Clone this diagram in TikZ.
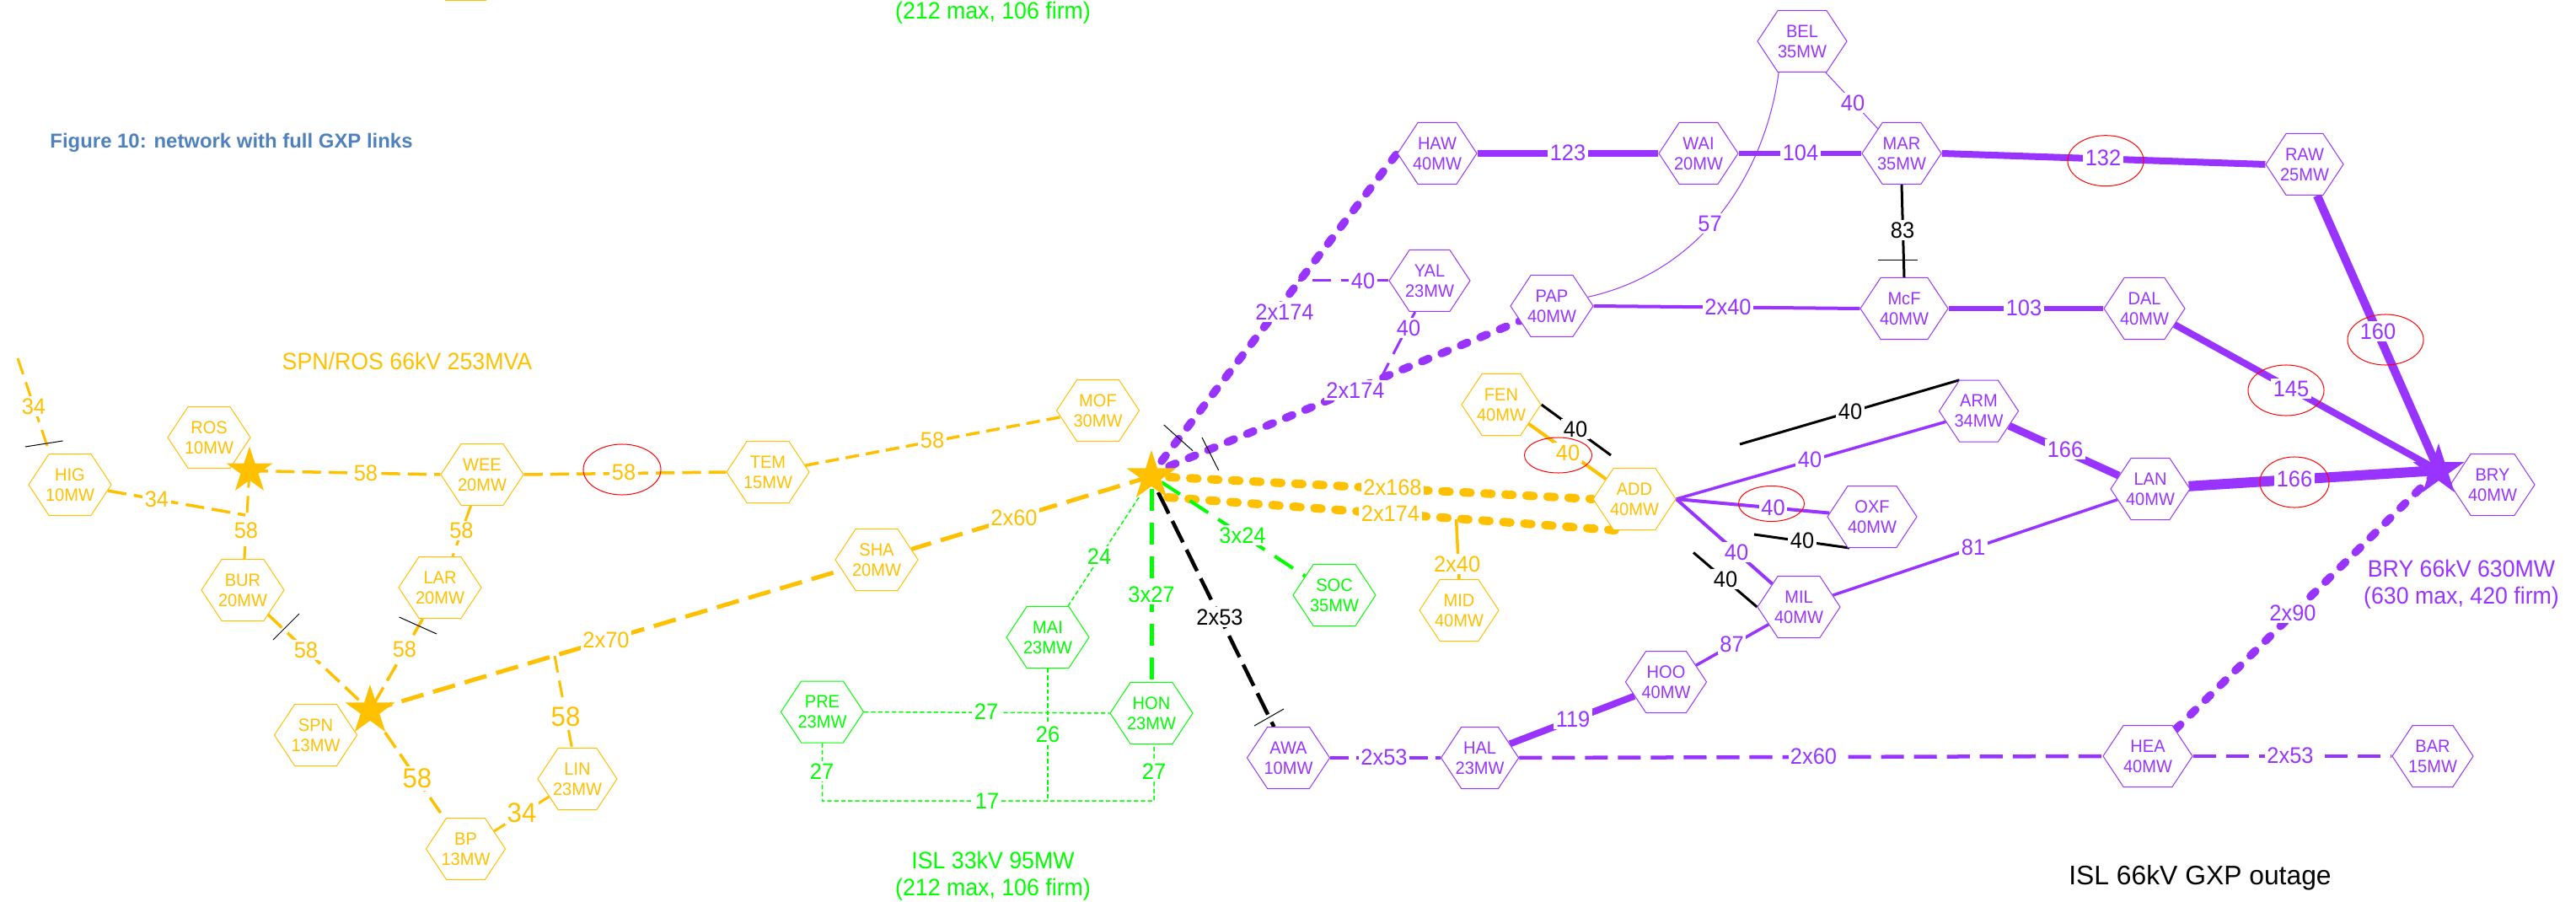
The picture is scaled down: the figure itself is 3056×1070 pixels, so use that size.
\documentclass[tikz,border=0pt]{standalone}
\usepackage{fontspec}
\setmainfont{Liberation Sans}
\newfontfamily\fh{Liberation Sans}[FakeStretch=0.95]
\newfontfamily\fl{Liberation Sans}[FakeStretch=0.95]
\usetikzlibrary{shapes.symbols,shapes.geometric}
\pgfdeclarelayer{background}
\pgfsetlayers{background,main}
\definecolor{yel}{HTML}{FFC000}
\definecolor{pur}{HTML}{9933FF}
\definecolor{grn}{HTML}{00FF00}
\definecolor{figblue}{HTML}{4F81BD}
\newcommand\hx[2]{\makebox[0pt]{#1}\\\makebox[0pt]{#2}}
\tikzset{
 lw/.style={line width=#1*0.2845pt},
 hexa/.style={shape=signal,signal to=east and west,signal pointer angle=113,draw,fill=white,lw=1,
   minimum height=73*0.01cm,minimum width=#1*0.02cm,inner sep=0pt,align=center,font=\fh\fontsize{6}{6.9}\selectfont},
 hy/.style={hexa=#1,draw=yel,text=yel},
 hp/.style={hexa=#1,draw=pur,text=pur},
 hg/.style={hexa=#1,draw=grn,text=grn},
 lb/.style={inner sep=0.7pt,fill=white,font=\fl\fontsize{7.6}{9}\selectfont},
 lbig/.style={lb,font=\fl\fontsize{9.3}{11}\selectfont},
 title/.style={inner sep=0pt,align=center,font=\fl\fontsize{8}{9.1}\selectfont},
 starn/.style={shape=star,star points=5,star point ratio=2.618,minimum size=#1,inner sep=0pt,draw=none},
 redell/.style={shape=ellipse,draw=red,lw=1,inner sep=0pt},
 tick/.style={draw=black,lw=1},
 dA/.style={dash pattern=on 5.7pt off 2.8pt},
 dB/.style={dash pattern=on 6.3pt off 2.6pt},
 dC/.style={dash pattern=on 4.6pt off 2.3pt},
 dD/.style={dash pattern=on 7.7pt off 3.4pt},
 dE/.style={dash pattern=on 8pt off 2.8pt},
 dF/.style={dash pattern=on 7.4pt off 4pt},
 dG/.style={dash pattern=on 1.5pt off 0.85pt},
 dH/.style={dash pattern=on 6.3pt off 3.4pt},
 dR/.style={line cap=round,dash pattern=on 2.4pt off 4.7pt},
 ly/.style={draw=yel,lw=#1},
 lp/.style={draw=pur,lw=#1},
 lg/.style={draw=grn,lw=#1},
 lk/.style={draw=black,lw=#1},
}
\begin{document}
\begin{tikzpicture}[x=0.01cm,y=-0.01cm]
\useasboundingbox (0,0) rectangle (3056,1070);
% yellow substations
\node[hy=49] (HIG) at (83,575) {\hx{HIG}{10MW}};
\node[hy=49] (ROS) at (248,519) {\hx{ROS}{10MW}};
\node[hy=49] (WEE) at (572,563) {\hx{WEE}{20MW}};
\node[hy=49] (BUR) at (288,700) {\hx{BUR}{20MW}};
\node[hy=49] (LAR) at (522,697) {\hx{LAR}{20MW}};
\node[hy=49] (SPN) at (374.5,872) {\hx{SPN}{13MW}};
\node[hy=47] (LIN) at (685,924) {\hx{LIN}{23MW}};
\node[hy=47] (BP) at (552.5,1007) {\hx{BP}{13MW}};
\node[hy=49] (TEM) at (911,560) {\hx{TEM}{15MW}};
\node[hy=49] (MOF) at (1302.5,487) {\hx{MOF}{30MW}};
\node[hy=49] (SHA) at (1040,664) {\hx{SHA}{20MW}};
\node[hy=47] (MID) at (1731,724) {\hx{MID}{40MW}};
\node[hy=47] (FEN) at (1781,480) {\hx{FEN}{40MW}};
\node[hy=49] (ADD) at (1939,592) {\hx{ADD}{40MW}};
% green substations
\node[hg=49] (MAI) at (1243,756) {\hx{MAI}{23MW}};
\node[hg=49] (PRE) at (975.5,844.5) {\hx{PRE}{23MW}};
\node[hg=49] (HON) at (1366,846) {\hx{HON}{23MW}};
\node[hg=49] (SOC) at (1583,706) {\hx{SOC}{35MW}};
% purple substations
\node[hp=49] (AWA) at (1528.5,899) {\hx{AWA}{10MW}};
\node[hp=46] (HAL) at (1755.6,899) {\hx{HAL}{23MW}};
\node[hp=48] (HOO) at (1976.5,809) {\hx{HOO}{40MW}};
\node[hp=49] (MIL) at (2134,720) {\hx{MIL}{40MW}};
\node[hp=53] (OXF) at (2221,613) {\hx{OXF}{40MW}};
\node[hp=47] (ARM) at (2347.5,487.6) {\hx{ARM}{34MW}};
\node[hp=47] (LAN) at (2551,580) {\hx{LAN}{40MW}};
\node[hp=50] (BRY) at (2957,575) {\hx{BRY}{40MW}};
\node[hp=53] (HEA) at (2548,897) {\hx{HEA}{40MW}};
\node[hp=48] (BAR) at (2886,897) {\hx{BAR}{15MW}};
\node[hp=53] (BEL) at (2138,49) {\hx{BEL}{35MW}};
\node[hp=47] (HAW) at (1705,182) {\hx{HAW}{40MW}};
\node[hp=47] (WAI) at (2015,182) {\hx{WAI}{20MW}};
\node[hp=47] (MAR) at (2256,182) {\hx{MAR}{35MW}};
\node[hp=48] (YAL) at (1696,333) {\hx{YAL}{23MW}};
\node[hp=49] (PAP) at (1841,363) {\hx{PAP}{40MW}};
\node[hp=52] (McF) at (2259,366) {\hx{McF}{40MW}};
\node[hp=46] (RAW) at (2734,195) {\hx{RAW}{25MW}};
\node[hp=48] (DAL) at (2544,366) {\hx{DAL}{40MW}};
% stars
\node[starn=0.58cm,fill=yel] (S1) at (296,558.5) {};
\node[starn=0.62cm,fill=yel] (S2) at (439,843) {};
\node[starn=0.62cm,fill=yel] (S3) at (1366,565) {};
\node[starn=0.64cm,fill=pur] (S4) at (2893,558) {};
% free ends and taps
\coordinate (hstub) at (21,425);
\coordinate (bj) at (291,611);
\coordinate (tapL) at (658,778);
\coordinate (isA) at (1387,566);
\coordinate (isB) at (1385,590);
\coordinate (tapM) at (1727.6,616);
\coordinate (tapY) at (1639,447);
\coordinate (tapP) at (1540,333);
\coordinate (pA) at (1378,547);
\coordinate (pB) at (1387,553);
\coordinate (kA) at (1911,540);
\coordinate (kB) at (2064,527);
\coordinate (kC) at (2081,634);
\coordinate (kD) at (2009,655.5);
\coordinate (gA) at (1378,572);
\coordinate (gB) at (1366,580);
\coordinate (gC) at (1351,590);
\coordinate (kE) at (1374,584);
\coordinate (gJ1) at (1243,950);
\coordinate (gL) at (975.5,950);
\coordinate (gR) at (1369,950);
\coordinate (topa) at (528,0.5);
\coordinate (topb) at (577,0.5);
\coordinate (t1a) at (30,530); \coordinate (t1b) at (74.5,523);
\coordinate (t2a) at (324,759); \coordinate (t2b) at (355,728);
\coordinate (t3a) at (473.5,732); \coordinate (t3b) at (518,752);
\coordinate (t4a) at (1380.7,504); \coordinate (t4b) at (1415,534.7);
\coordinate (t5a) at (1426,519); \coordinate (t5b) at (1445.7,558);
\coordinate (t6a) at (1488,861); \coordinate (t6b) at (1523,841);
\coordinate (t7a) at (2227.5,309); \coordinate (t7b) at (2274.5,309);
\begin{pgfonlayer}{background}
% yellow connectors
\draw[ly=3,dA] (hstub) -- (HIG.123);
\draw[ly=3.5,dB] (HIG.351) -- (bj);
\draw[ly=3,dA] (S1.center) -- (BUR.87);
\draw[ly=3.5,dB] (S1.center) -- (WEE.west);
\draw[ly=3.5,dB] (WEE.east) -- (TEM.west);
\draw[ly=3.5,dC] (TEM.10) -- (MOF.190);
\draw[ly=3,dA] (WEE.250) -- (LAR.68);
\draw[ly=3.5,dB] (BUR.316) -- (S2.center);
\draw[ly=3.5,dB] (LAR.241) -- (S2.center);
\draw[ly=5,dD] (S2.center) -- (SHA);
\draw[ly=5,dD] (S3.center) -- (SHA);
\draw[ly=3,dA] (tapL) -- (LIN.100);
\draw[ly=3.5,dB] (S2.center) -- (BP.125);
\draw[ly=3,dA] (BP.32) -- (LIN.212);
\draw[ly=10,dR] (isA) -- (ADD.west);
\draw[ly=10,dR] (isB) -- (ADD.238);
\draw[ly=3.5] (tapM) -- (MID.north);
\draw[ly=4] (FEN.325) -- (ADD.145);
\draw[ly=1] (topa) -- (topb);
% black connectors
\draw[lk=3] (FEN.east) -- (kA);
\draw[lk=3] (kB) -- (ARM.122);
\draw[lk=3] (kC) -- (OXF.234);
\draw[lk=3] (kD) -- (MIL.west);
\draw[lk=4.5,dE] (kE) -- (AWA.115);
\draw[lk=3] (MAR.south) -- (McF.north);
% green connectors
\draw[lg=4,dF] (gA) -- (SOC.147);
\draw[lg=5,dF] (gB) -- (HON.north);
\draw[lg=1.5,dG] (gC) -- (MAI.57);
\draw[lg=1.5,dG] (PRE.east) -- (HON.west);
\draw[lg=1.5,dG] (MAI.south) -- (gJ1);
\draw[lg=1.5,dG] (PRE.south) -- (gL) -- (gR) -- (HON.275);
% purple connectors
\draw[lp=9.5,dR] (pA) -- (HAW.west);
\draw[lp=9.5,dR] (pB) -- (PAP.205);
\draw[lp=3,dH] (YAL.245) -- (tapY);
\draw[lp=3,dH] (YAL.west) -- (tapP);
\draw[lp=8] (HAW.east) -- (WAI.west);
\draw[lp=5.5] (WAI.east) -- (MAR.west);
\draw[lp=8] (MAR.east) -- (RAW.west);
\draw[lp=10] (RAW.292) -- (S4.center);
\draw[lp=4] (PAP.east) -- (McF.west);
\draw[lp=5.5] (McF.east) -- (DAL.west);
\draw[lp=8] (DAL.332) -- (S4.center);
\draw[lp=3.5] (ADD.east) -- (ARM.198);
\draw[lp=4] (ADD.east) -- (OXF.175);
\draw[lp=4] (ADD.east) -- (MIL.139);
\draw[lp=3.5] (MIL.19) -- (LAN.198);
\draw[lp=3.5] (MIL.210) -- (HOO.29);
\draw[lp=8] (HOO.204) -- (HAL.25);
\draw[lp=9] (ARM.334) -- (LAN.157);
\draw[lp=12] (LAN.4) -- (S4.center);
\draw[lp=4.5,dB] (AWA.east) -- (HAL.west);
\draw[lp=4.5,dD] (HAL.east) -- (HEA.west);
\draw[lp=4.5,dD] (HEA.east) -- (BAR.west);
\draw[lp=9.5,dR] (HEA.44) -- (S4.center);
\draw[lp=1] (BEL.233) .. controls (2095,200) and (2024,321) .. (PAP.14);
\draw[lp=1] (BEL.307) -- (MAR.134);
% ticks
\draw[tick] (t1a) -- (t1b);
\draw[tick] (t2a) -- (t2b);
\draw[tick] (t3a) -- (t3b);
\draw[tick] (t4a) -- (t4b);
\draw[tick] (t5a) -- (t5b);
\draw[tick] (t6a) -- (t6b);
\draw[tick] (t7a) -- (t7b);
\end{pgfonlayer}
% labels yellow
\begin{scope}[every node/.append style={text=yel}]
\node[lb] (a1) at (40,482) {34};
\node[lb] (a2) at (186,592) {34};
\node[lb] (a3) at (292,629.5) {58};
\node[lb] (a4) at (434,561.5) {58};
\node[lb] (a5) at (547.5,629.5) {58};
\node[lb] (a6) at (740,560) {58};
\node[lb] (a7) at (363,771) {58};
\node[lb] (a8) at (480,770) {58};
\node[lb] (a9) at (719,759) {2x70};
\node[lbig] (a10) at (671,850) {58};
\node[lbig] (a11) at (495,923.5) {58};
\node[lbig] (a12) at (619,964) {34};
\node[lb] (a13) at (1106,522) {58};
\node[lb] (a14) at (1203,614) {2x60};
\node[lb] (a15) at (1860,537) {40};
\node[lb] (a16) at (1652,578.6) {2x168};
\node[lb] (a17) at (1649.5,609) {2x174};
\node[lb] (a18) at (1728.6,669) {2x40};
\node[title] (ttl1) at (483,428) {SPN/ROS 66kV 253MVA};
\end{scope}
% labels green
\begin{scope}[every node/.append style={text=grn}]
\node[lb] (g1) at (1474,635) {3x24};
\node[lb] (g2) at (1304,660) {24};
\node[lb] (g3) at (1366,705) {3x27};
\node[lb] (g4) at (1170,844) {27};
\node[lb] (g5) at (1243,871) {26};
\node[lb] (g6) at (975,915) {27};
\node[lb] (g7) at (1369,915) {27};
\node[lb] (g8) at (1171,950) {17};
\node[title] (ttl2) at (1178,1039) {ISL 33kV 95MW\\(212 max, 106 firm)};
\node[title] (ttl3) at (1178,15) {(212 max, 106 firm)};
\end{scope}
% labels black
\begin{scope}[every node/.append style={text=black}]
\node[lb] (k1) at (1447,732) {2x53};
\node[lb] (k2) at (1869,509) {40};
\node[lb] (k3) at (2195,488) {40};
\node[lb] (k4) at (2138,641.5) {40};
\node[lb] (k5) at (2047,687) {40};
\node[lb] (k6) at (2257,273) {83};
\node[inner sep=0pt,font=\fontsize{9.05}{11}\selectfont] (ttl4) at (2610,1041) {ISL 66kV GXP outage};
\end{scope}
% labels purple
\begin{scope}[every node/.append style={text=pur}]
\node[lb] (p1) at (1524,370) {2x174};
\node[lb] (p2) at (1608,463) {2x174};
\node[lb] (p3) at (1671,389) {40};
\node[lb] (p4) at (1617,333) {40};
\node[lb] (p5) at (2028.6,265) {57};
\node[lb] (p6) at (2198,122) {40};
\node[lb] (p7) at (1860,181) {123};
\node[lb] (p8) at (2136,181) {104};
\node[lb] (p9) at (2050,364) {2x40};
\node[lb] (p10) at (2401,365) {103};
\node[lb] (p11) at (2495,187) {132};
\node[lb] (p12) at (2821,393) {160};
\node[lb] (p13) at (2718,461) {145};
\node[lb] (p14) at (2450,533) {166};
\node[lb] (p15) at (2722,568) {166};
\node[lb] (p16) at (2720,727) {2x90};
\node[lb] (p17) at (2717,896) {2x53};
\node[lb] (p18) at (2147,545) {40};
\node[lb] (p19) at (2103.6,602) {40};
\node[lb] (p20) at (2060,655) {40};
\node[lb] (p21) at (2341,649) {81};
\node[lb] (p22) at (2054.6,764) {87};
\node[lb] (p23) at (1866,853) {119};
\node[lb] (p24) at (1642,898) {2x53};
\node[lb] (p25) at (2151.5,897) {2x60};
\node[title] (ttl5) at (2920,693) {BRY 66kV 630MW\\(630 max, 420 firm)};
\end{scope}
\node[inner sep=0pt,text=figblue,font=\bfseries\fontsize{6.8}{8}\selectfont] (fig) at (274.5,169) {Figure 10: network with full GXP links};
% red ellipses
\node[redell,minimum width=0.92cm,minimum height=0.6cm] (e1) at (738,557) {};
\node[redell,minimum width=0.8cm,minimum height=0.42cm] (e2) at (1848.5,540) {};
\node[redell,minimum width=0.78cm,minimum height=0.42cm] (e3) at (2101.5,597.5) {};
\node[redell,minimum width=0.9cm,minimum height=0.6cm] (e4) at (2712,463) {};
\node[redell,minimum width=0.82cm,minimum height=0.6cm] (e5) at (2722,572) {};
\node[redell,minimum width=0.9cm,minimum height=0.6cm] (e6) at (2498,190.7) {};
\node[redell,minimum width=0.9cm,minimum height=0.6cm] (e7) at (2830,403) {};
\end{tikzpicture}
\end{document}
